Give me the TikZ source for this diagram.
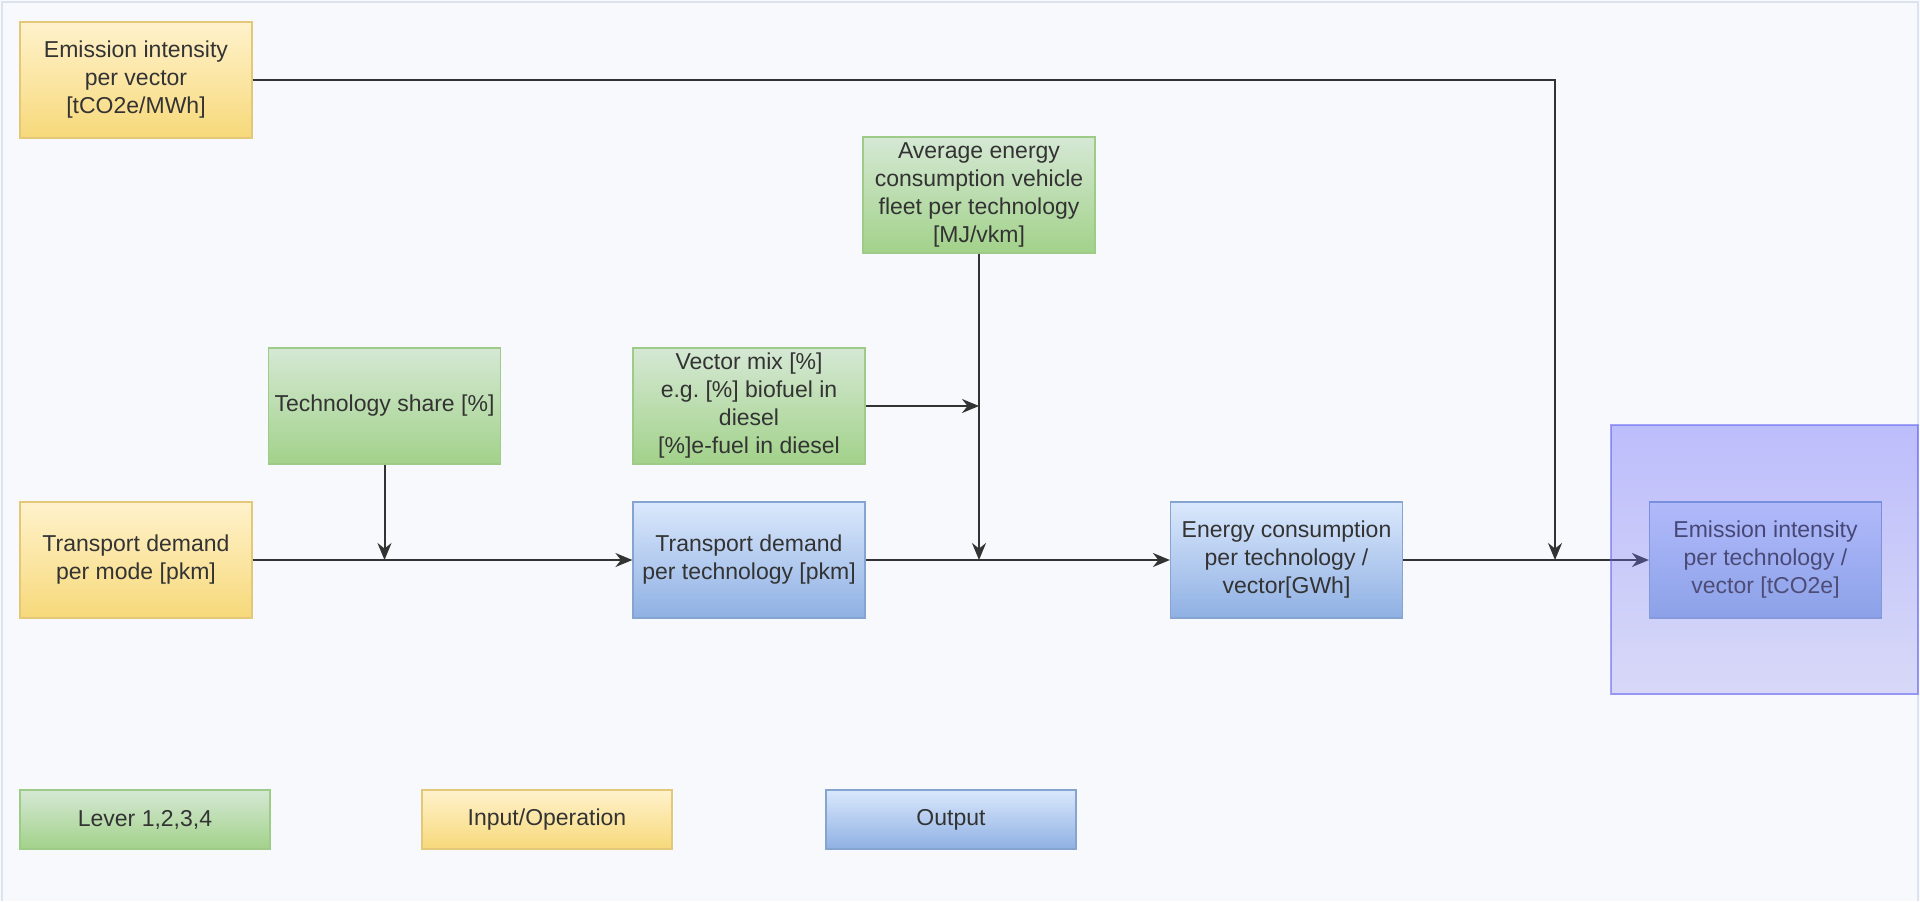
\documentclass[tikz,border=0pt]{standalone}
\usepackage{fontspec}
\setmainfont{Liberation Sans}
\usepackage{xcolor}
\usetikzlibrary{arrows.meta,calc,positioning}

\definecolor{bgcol}{HTML}{F8F9FC}
\definecolor{framecol}{HTML}{DCE3EE}
\definecolor{txtcol}{HTML}{333333}
\definecolor{linecol}{HTML}{333333}
\definecolor{levtop}{HTML}{D5E8D4}
\definecolor{levbot}{HTML}{A2D28A}
\definecolor{levline}{HTML}{9ECB88}
\definecolor{inptop}{HTML}{FFF2CC}
\definecolor{inpbot}{HTML}{F7D97A}
\definecolor{inpline}{HTML}{E2C878}
\definecolor{outtop}{HTML}{DAE8FC}
\definecolor{outbot}{HTML}{8FB0E3}
\definecolor{outline}{HTML}{86A4D0}
\definecolor{regtop}{RGB}{79,79,252}
\definecolor{regbot}{RGB}{157,157,240}
\definecolor{regline}{HTML}{6060F0}

\tikzset{
  box/.style={rectangle,minimum width=116pt,minimum height=58pt,
    align=center,text=txtcol,inner sep=1pt,line width=0.6pt,
    font=\fontsize{11.5}{14}\selectfont},
  lever/.style={box,draw=levline,top color=levtop,bottom color=levbot},
  input/.style={box,draw=inpline,top color=inptop,bottom color=inpbot},
  output/.style={box,draw=outline,top color=outtop,bottom color=outbot},
  legendbox/.style={minimum width=125pt,minimum height=29.5pt},
  flow/.style={->,draw=linecol,line width=1pt},
}

\begin{document}
\begin{tikzpicture}[x=0.5pt,y=-0.5pt,>={Stealth[length=8.5pt,width=7pt]}]
  \useasboundingbox (0,0) rectangle (1920,901);
  \fill[bgcol] (0,0) rectangle (1920,901);
  \draw[framecol,line width=1.2pt] (2,901) -- (2,2) -- (1918,2) -- (1918,901);

  % inputs and levers
  \node[input] (emisvec) at (136,80) {Emission intensity\\per vector\\{[}tCO2e/MWh{]}};
  \node[lever] (avgcons) at (979,195) {Average energy\\consumption vehicle\\fleet per technology\\{[}MJ/vkm{]}};
  \node[lever] (techshare) at (384.5,406) {Technology share [\%]};
  \node[lever] (vecmix) at (749,406) {Vector mix [\%]\\e.g.\ [\%] biofuel in\\diesel\\{[}\%]e-fuel in diesel};
  \node[input] (demmode) at (136,560) {Transport demand\\per mode [pkm]};

  % outputs
  \node[output] (demtech) at (749,560) {Transport demand\\per technology [pkm]};
  \node[output] (energy) at (1286.5,560) {Energy consumption\\per technology /\\vector[GWh]};
  \node[output] (emistech) at (1765.5,560) {Emission intensity\\per technology /\\vector [tCO2e]};

  % junctions
  \coordinate (jshare) at (techshare.south |- demmode.east);
  \coordinate (jcons) at (avgcons.south |- demtech.east);
  \coordinate (jmix) at (avgcons.south |- vecmix.east);
  \coordinate (jemis) at (1555,560);

  \draw[flow] (demmode) -- (demtech);
  \draw[flow] (techshare) -- (jshare);
  \draw[flow] (demtech) -- (energy);
  \draw[flow] (avgcons) -- (jcons);
  \draw[flow] (vecmix) -- (jmix);
  \draw[flow] (energy) -- (emistech);
  \draw[flow] (emisvec) -| (jemis);

  % highlighted region
  \node[draw=regline,top color=regtop,bottom color=regbot,fill opacity=0.35,
    draw opacity=0.55,line width=0.8pt,minimum width=153.5pt,minimum height=134.5pt]
    (region) at (1764.5,559.5) {};

  % legend
  \node[lever,legendbox] (leglever) at (145,819.5) {Lever 1,2,3,4};
  \node[input,legendbox] (leginput) at (547,819.5) {Input/Operation};
  \node[output,legendbox] (legoutput) at (951,819.5) {Output};
\end{tikzpicture}
\end{document}
